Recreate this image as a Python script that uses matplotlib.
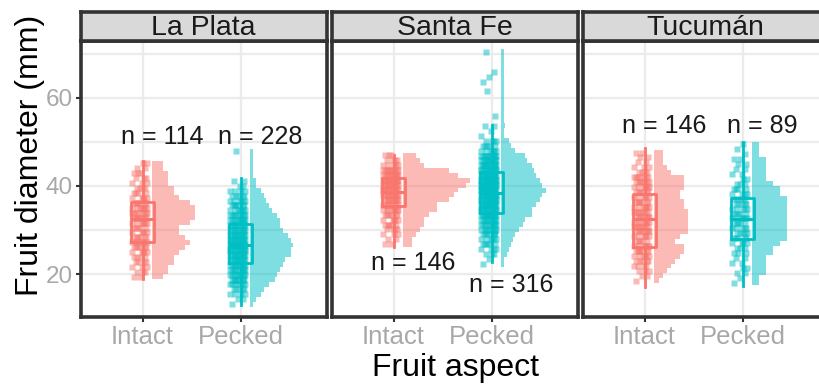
import numpy as np
import matplotlib.pyplot as plt

plt.rcParams['font.family'] = ['Liberation Sans', 'DejaVu Sans']

sites = ["La Plata", "Santa Fe", "Tucumán"]
aspects = ["Intact", "Pecked"]
aspect_colors = ["#F8766D", "#00BFC4"]

# fruit counts per 1.12 mm diameter bin, lowest bin first
bin_width = 1.12
laplata_intact = [2, 3, 3, 4, 4, 5, 6, 7, 6, 5, 5, 7, 8, 8, 8, 7, 5, 4, 4, 3, 3, 3, 2, 2]
laplata_pecked = [1, 2, 4, 5, 7, 9, 10, 11, 12, 13, 15, 15, 16, 15, 14, 12, 11, 11, 10, 8,
                  7, 6, 5, 4, 2, 2, 0, 0, 0, 0, 0, 1]
santafe_intact = [2, 2, 3, 4, 5, 5, 6, 8, 8, 11, 12, 13, 15, 16, 13, 11, 5, 4, 3]
santafe_pecked = [1, 1, 3, 4, 5, 6, 7, 9, 11, 12, 16, 16, 18, 20, 21, 23, 21, 20, 18, 17,
                  16, 13, 12, 7, 5, 4, 1, 1, 2, 0, 1, 0, 0, 0, 0, 1, 0, 1, 1, 1, 0, 0, 0, 1]
tucuman_intact = [1, 2, 3, 4, 5, 6, 7, 7, 5, 6, 8, 8, 8, 8, 8, 7, 7, 6, 6, 7, 7, 7, 4, 3, 2, 2, 2]
tucuman_pecked = [1, 1, 2, 2, 2, 2, 3, 3, 4, 5, 5, 5, 5, 5, 5, 5, 5, 5, 4, 4, 3, 2, 2, 2, 2, 2, 1, 1, 1]

counts = [[laplata_intact, laplata_pecked],
          [santafe_intact, santafe_pecked],
          [tucuman_intact, tucuman_pecked]]
hist_start = [[18.8, 12.6], [26.2, 21.7], [17.9, 17.5]]

# boxplot summaries (mm)
box_low = [[18.8, 13.0], [26.2, 22.8], [17.1, 17.3]]
box_q1 = [[27.3, 22.6], [35.4, 33.8], [26.2, 27.9]]
box_med = [[32.6, 26.6], [38.7, 38.3], [32.6, 32.6]]
box_q3 = [[36.4, 31.3], [41.7, 43.2], [38.1, 37.3]]
box_high = [[45.6, 41.7], [47.0, 53.8], [48.5, 50.0]]

# height of the "n = ..." labels
label_y = [[51.1, 51.1], [22.4, 17.5], [53.6, 53.6]]

jitter = [-0.09, -0.03, 0.03, -0.06, 0.0, 0.05, -0.11, -0.01, 0.02, -0.07, 0.04, -0.05]
dens_scale = 7.0

W, H = 819, 385
fig = plt.figure(figsize=(W / 100, H / 100), dpi=100)

def frame(px_left, px_top, px_w, px_h):
    return [px_left / W, 1 - (px_top + px_h) / H, px_w / W, px_h / H]

dark = "#333333"
panel_left = [80.5, 331.5, 582.5]
panel_w = 246
for i, site in enumerate(sites):
    ax = fig.add_axes(frame(panel_left[i], 41, panel_w, 276))
    for j, asp in enumerate(aspects):
        col = aspect_colors[j]
        c = np.array(counts[i][j])
        n = c.sum()
        edges = hist_start[i][j] + bin_width * np.arange(len(c) + 1)
        mids = (edges[:-1] + edges[1:]) / 2
        pos = j + 1

        # half histogram to the right
        w = np.maximum(c / (n * bin_width) * dens_scale, 0.03)
        ax.barh(edges[:-1], w, height=bin_width, left=pos + 0.1, align='edge',
                color=col, alpha=0.5, linewidth=0, zorder=2)

        # observations, one marker per fruit
        ys = np.repeat(mids, c)
        xs = pos + np.array([jitter[k % len(jitter)] for k in range(len(ys))])
        ax.plot(xs, ys, 's', ms=4.2, color=col, alpha=0.5, mec='none', zorder=3)

        stats = [dict(whislo=box_low[i][j], q1=box_q1[i][j], med=box_med[i][j],
                      q3=box_q3[i][j], whishi=box_high[i][j])]
        ax.bxp(stats, positions=[pos], widths=0.24, showfliers=False, showcaps=False,
               boxprops=dict(color=col, lw=2.0), whiskerprops=dict(color=col, lw=2.0),
               medianprops=dict(color=col, lw=2.2), manage_ticks=False, zorder=4)

        ax.text(pos + 0.2, label_y[i][j], f"n = {n}", ha='center', va='center',
                fontsize=18, color='#1A1A1A', zorder=5)

    ax.set_xlim(0.367, 2.877)
    ax.set_ylim(10.25, 72.9)
    ax.set_xticks([1, 2])
    ax.set_xticklabels(aspects)
    ax.set_yticks([20, 40, 60])
    ax.set_yticks([30, 50, 70], minor=True)
    ax.grid(which='both', color='#EBEBEB', lw=1.6, zorder=0)
    ax.set_axisbelow(True)
    ax.tick_params(which='major', length=3.5, width=1.5, color=dark,
                   labelcolor='#A8A8A8', pad=2)
    ax.tick_params(axis='x', labelsize=18.5)
    ax.tick_params(axis='y', labelsize=17.5)
    ax.tick_params(which='minor', length=0)
    if i > 0:
        ax.tick_params(axis='y', labelleft=False, length=0)
    for s in ax.spines.values():
        s.set_color(dark)
        s.set_linewidth(2.6)

    strip = fig.add_axes(frame(panel_left[i], 12, panel_w, 29))
    strip.set_facecolor('#D9D9D9')
    strip.set_xticks([])
    strip.set_yticks([])
    for s in strip.spines.values():
        s.set_color(dark)
        s.set_linewidth(2.6)
    strip.text(0.5, 0.45, site, transform=strip.transAxes, ha='center', va='center',
               fontsize=20.5, color='#1A1A1A')

fig.text(30 / W, 1 - 155 / H, "Fruit diameter (mm)", rotation=90, ha='center',
         va='center', fontsize=23, color='black')
fig.text(455 / W, 1 - 376 / H, "Fruit aspect", ha='center', va='baseline',
         fontsize=23, color='black')

fig.savefig("out.png", dpi=100)
